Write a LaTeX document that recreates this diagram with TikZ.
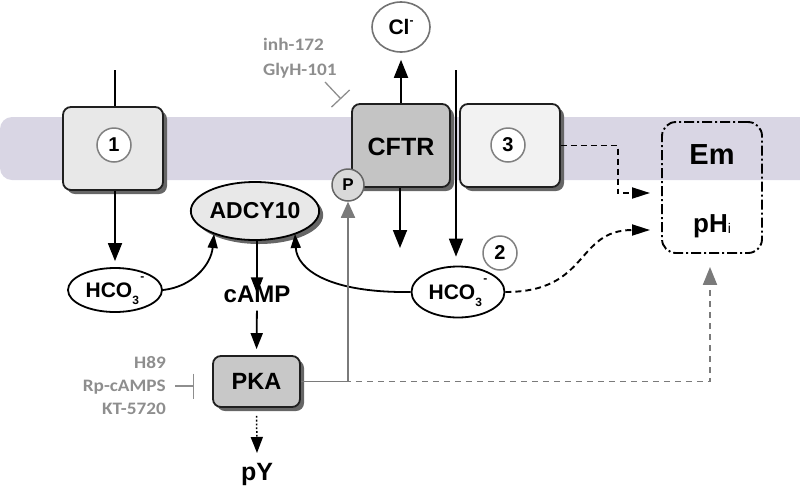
\documentclass[tikz,border=0pt]{standalone}
\usepackage{fontspec}
\setmainfont{Liberation Sans}
\newfontfamily\calfont{Carlito}[FakeStretch=1.1]
\usetikzlibrary{arrows.meta,shadows,shapes.geometric}
\definecolor{membr}{HTML}{D9D6E4}
\definecolor{inhgray}{HTML}{8E8E8E}
\definecolor{boxA}{HTML}{E8E8E8}
\definecolor{boxB}{HTML}{F2F2F2}
\definecolor{boxC}{HTML}{C4C4C4}
\definecolor{pkagray}{HTML}{C8C8C8}
\definecolor{lgray}{HTML}{7A7A7A}
\newcommand\fs[1]{\fontsize{#1}{#1}\selectfont}
\newcommand\hcolbl{HCO\smash{\rlap{\raisebox{-7pt}{\fs{12}3}}\kern8pt\raisebox{17pt}{\fs{12}-}}}
\begin{document}
\begin{tikzpicture}[x=1pt,y=-1pt,
  shad/.style={drop shadow={shadow xshift=4pt,shadow yshift=-4pt,fill=black!60,opacity=1}},
  tbox/.style={draw=black!88,line width=1.8pt,rounded corners=8pt,minimum width=100pt,minimum height=83pt,inner sep=0pt,shad},
  numc/.style={circle,draw=black!50,line width=1.5pt,fill=white,minimum size=34pt,inner sep=0pt,font=\bfseries\fs{20}},
  ion/.style={ellipse,draw=black,line width=1.8pt,fill=white,inner sep=0pt},
  lbl/.style={font=\bfseries\fs{#1},inner sep=0pt},
  lbl/.default=25,
  inhtxt/.style={font=\calfont\bfseries\fs{17.5},text=inhgray,inner sep=0pt},
  tip/.style={-{Triangle[length=18pt,width=14pt]}},
  stip/.style={-{Triangle[length=14pt,width=10pt]}},
  conn/.style={line width=1.8pt,black},
  blkdash/.style={line width=1.9pt,dash pattern=on 6pt off 4pt,-{Triangle[length=18pt,width=11pt]}},
  graydash/.style={line width=1.9pt,lgray,dash pattern=on 6pt off 5pt,-{Triangle[length=18pt,width=14pt]}},
  grayconn/.style={line width=1.7pt,lgray,-{Triangle[length=16pt,width=14pt]}},
  inhib/.style={line width=1.3pt,inhgray,-{Bar[width=25pt,line width=1.3pt]}}
]
\useasboundingbox (0,0) rectangle (800,488);
% membrane
\fill[membr] (800,117) [rounded corners=12pt] -- (0,117) -- (0,180) [sharp corners] -- (800,180) -- cycle;
% transporters
\node[tbox,fill=boxA] (box1) at (113,148.5) {};
\node[numc] (n1) at (114,145) {1};
\node[tbox,fill=boxC,minimum width=98pt] (cftr) at (401,145.5) {};
\node[lbl] (cftrlbl) at (401,147) {CFTR};
\node[tbox,fill=boxB] (box3) at (510,145.5) {};
\node[numc] (n3) at (508,145) {3};
\node[circle,draw=black!60,line width=1.5pt,fill=black!15,minimum size=32pt,inner sep=0pt,font=\bfseries\fs{17}] (P) at (348,185) {P};
% Cl-
\node[ion,draw=black!55,line width=1.6pt,minimum width=58pt,minimum height=50pt] (cl) at (401,27) {\bfseries\fs{21}Cl\smash{\raisebox{10pt}{\fs{12}-}}};
% ADCY10
\node[ellipse,draw=black,line width=1.8pt,fill=boxA,minimum width=108pt,minimum height=58pt,inner sep=0pt,shad,font=\bfseries\fs{23}] (adcy) at (255,211) {ADCY10};
\node[lbl=24] (camp) at (257,294) {cAMP};
\node[tbox,fill=pkagray,minimum width=87pt,minimum height=51pt,font=\bfseries\fs{23.5}] (pka) at (256.5,381.5) {PKA};
\node[lbl=25,anchor=base] (py) at (257,480) {pY};
% HCO3-
\node[ion,minimum width=94pt,minimum height=44pt,font=\bfseries\fs{21}] (hcoL) at (115,290) {\hcolbl};
\node[ion,minimum width=93pt,minimum height=51pt,font=\bfseries\fs{21}] (hcoR) at (458,292) {\hcolbl};
\node[numc] (n2) at (500,253) {2};
% Em / pHi
\node[draw=black,line width=1.9pt,dash pattern=on 10pt off 3pt on 2pt off 3pt,rounded corners=14pt,minimum width=100pt,minimum height=131pt] (emph) at (712,187.5) {};
\node[lbl=29,anchor=base] (em) at (712,164) {Em};
\node[lbl=26,anchor=base] (ph) at (712,232) {pH\raisebox{-1pt}{\mdseries\fs{14}i}};
% inhibitor texts
\node[inhtxt,anchor=base west] (inh1) at (263,50) {inh-172};
\node[inhtxt,anchor=base west] (inh2) at (263,75) {GlyH-101};
\node[inhtxt,anchor=base east] (pk1) at (166,368) {H89};
\node[inhtxt,anchor=base east] (pk2) at (166,391) {Rp-cAMPS};
\node[inhtxt,anchor=base east] (pk3) at (166,414) {KT-5720};
% coordinates
\coordinate (t1) at (115,70);
\coordinate (t2) at (456,70);
\coordinate (cftrout) at (400,248);
\coordinate (ia1) at (325,82);
\coordinate (ia2) at (341,99);
\coordinate (ib1) at (175,386);
\coordinate (ib2) at (194,386);
\coordinate (Emin) at (650,193);
\coordinate (pHin) at (650,230);
% connectors
\draw[conn] (t1) -- (t1 |- box1.north);
\draw[conn,tip,shorten >=6pt] (box1.south -| t1) -- (t1 |- hcoL.north);
\draw[conn,tip,shorten >=9pt] (t2) -- (t2 |- hcoR.north);
\draw[conn,tip,shorten >=7pt] (cftr.north -| cl) -- (cl.south);
\draw[conn,tip] (cftr.south -| cftrout) -- (cftrout);
\draw[conn,stip] (hcoL.east) .. controls (192,287) and (211,265) .. (214,234);
\draw[conn,stip] (hcoR.west) .. controls (330,293) and (297,270) .. (295,234);
\draw[conn,-{Triangle[length=16pt,width=12pt]}] (adcy.south -| camp) -- ([yshift=-8pt]camp.north);
\draw[conn,-{Triangle[length=16pt,width=12pt]},shorten <=8pt,shorten >=6pt] (camp.south) -- (pka.north);
\draw[conn,dotted,line width=1.5pt,-{Triangle[length=16pt,width=12pt]},shorten <=8pt] (pka.south) -- (257,453);
\draw[graydash,shorten >=13pt] (pka.east) -| (emph.south -| 710,0);
\draw[grayconn] (pka.east) -| (P.south);
\draw[blkdash] (box3.east) -- ++(57,0) |- (Emin);
\draw[blkdash] (hcoR.east) .. controls (590,292) and (575,230) .. (pHin);
\draw[inhib] (ia1) -- (ia2);
\draw[inhib] (ib1) -- (ib2);
\end{tikzpicture}
\end{document}
